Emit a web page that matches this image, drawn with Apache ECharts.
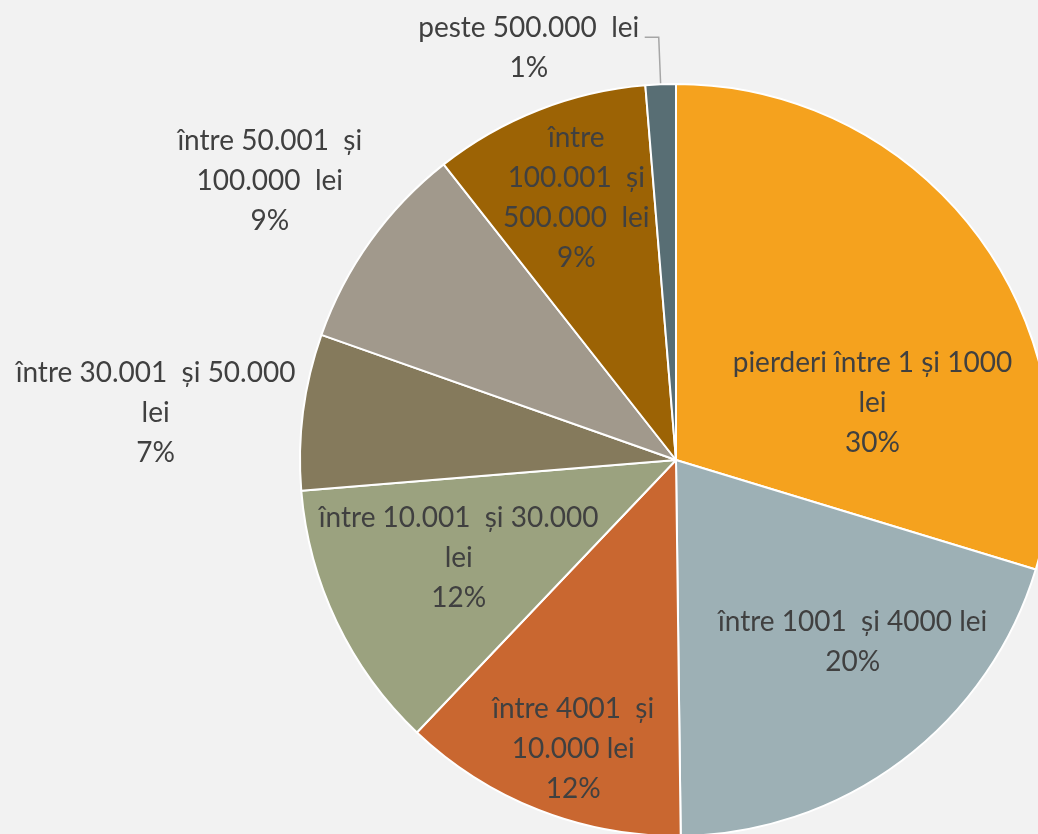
<!DOCTYPE html>
<html>
<head>
<meta charset="utf-8">
<script src="https://cdn.jsdelivr.net/npm/echarts@6/dist/echarts.min.js"></script>
<style>
  html, body { margin: 0; padding: 0; background: #f2f2f2; }
  #chart { width: 1038px; height: 834px; }
</style>
</head>
<body>
<div id="chart"></div>
<script>
// categorii (cu rupturile de rand ca in grafic)
const categories = [
  'pierderi între 1 și 1000\nlei',
  'între 1001  și 4000 lei',
  'între 4001  și\n10.000 lei',
  'între 10.001  și 30.000\nlei',
  'între 30.001  și 50.000\nlei',
  'între 50.001  și\n100.000  lei',
  'între\n100.001  și\n500.000  lei',
  'peste 500.000  lei'
];
const values = [29.7, 20.1, 12.3, 11.6, 6.7, 9.0, 9.3, 1.3];
const colors = ['#f5a21e', '#9db0b5', '#c96730', '#9ba27f', '#857a5c', '#a1998c', '#9c6305', '#586e74'];
// deplasarea etichetelor fata de pozitia "inside"
const labelOffsets = [[43, 57], [62, 29], [-33, 111], [-45, 16], [-331, -22], [-251, -168], [-30, -84], [-112, 11]];

const chart = echarts.init(document.getElementById('chart'));

const option = {
  backgroundColor: '#f2f2f2',
  animation: false,
  series: [
    {
      type: 'pie',
      center: [676, 460],
      radius: 376,
      startAngle: 90,
      clockwise: true,
      avoidLabelOverlap: false,
      itemStyle: {
        borderColor: '#ffffff',
        borderWidth: 2
      },
      label: {
        position: 'inside',
        color: '#404040',
        fontFamily: 'Lato',
        fontSize: 28,
        lineHeight: 40,
        align: 'center',
        formatter: (p) => p.name + '\n' + Math.round(p.percent) + '%'
      },
      labelLayout: (params) => {
        const off = labelOffsets[params.dataIndex];
        if (params.dataIndex === 7) {
          return { align: 'center', dx: off[0], dy: off[1] };
        }
        return { dx: off[0], dy: off[1] };
      },
      data: categories.map((name, i) => {
        const item = { name: name, value: values[i], itemStyle: { color: colors[i] } };
        if (i === 7) {
          item.label = { position: 'outside', alignTo: 'none', padding: [42, 0, 0, 0], distanceToLabelLine: 4 };
          item.labelLine = { show: true, length: 47, length2: 14, lineStyle: { color: '#a6a6a6', width: 1.5 } };
        }
        return item;
      })
    }
  ]
};

chart.setOption(option);
</script>
</body>
</html>
